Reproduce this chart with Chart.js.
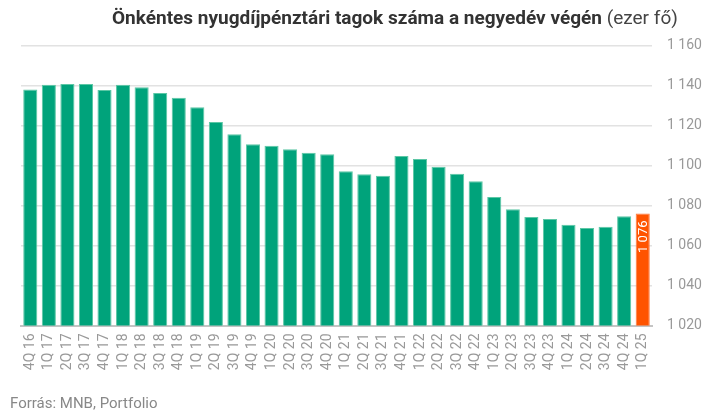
<!DOCTYPE html>
<html>
<head>
<meta charset="utf-8">
<script src="https://cdn.jsdelivr.net/npm/chart.js@4.4.1/dist/chart.umd.min.js"></script>
<style>
  html, body { margin: 0; padding: 0; background: #fff; }
  #wrap { position: relative; width: 718px; height: 415px; font-family: Roboto, sans-serif; }
  #title { position: absolute; left: 112px; top: 6px; font-size: 19px; line-height: 24px; color: #333; white-space: nowrap; }
  #title b { font-weight: 700; }
  #title span { font-weight: 400; color: #444; }
  #source { position: absolute; left: 10px; top: 394px; font-size: 15px; color: #888; }
  canvas { position: absolute; left: 0; top: 0; }
</style>
</head>
<body>
<div id="wrap">
  <canvas id="myChart" width="718" height="415"></canvas>
  <div id="title"><b>Önkéntes nyugdíjpénztári tagok száma a negyedév végén</b> <span>(ezer fő)</span></div>
  <div id="source">Forrás: MNB, Portfolio</div>
</div>
<script>
"use strict";

var labels = ['4Q 16',
    '1Q 17', '2Q 17', '3Q 17', '4Q 17',
    '1Q 18', '2Q 18', '3Q 18', '4Q 18',
    '1Q 19', '2Q 19', '3Q 19', '4Q 19',
    '1Q 20', '2Q 20', '3Q 20', '4Q 20',
    '1Q 21', '2Q 21', '3Q 21', '4Q 21',
    '1Q 22', '2Q 22', '3Q 22', '4Q 22',
    '1Q 23', '2Q 23', '3Q 23', '4Q 23',
    '1Q 24', '2Q 24', '3Q 24', '4Q 24',
    '1Q 25'];

// ezer fő
var members = [1138,
    1140.4, 1140.8, 1140.8, 1137.8,
    1140.4, 1139.1, 1136.3, 1133.9,
    1129.1, 1121.8, 1115.6, 1110.6,
    1109.9, 1108.1, 1106.4, 1105.6,
    1097.1, 1095.6, 1094.9, 1104.8,
    1103.3, 1099.4, 1095.9, 1092.1,
    1084.3, 1078.1, 1074.3, 1073.3,
    1070.4, 1068.8, 1069.4, 1074.6,
    1076];

var yTicks = [1020, 1040, 1060, 1080, 1100, 1120, 1140, 1160];

function fmt(v) {
    return String(Math.round(v)).replace(/\B(?=(\d{3})+(?!\d))/g, ' ');
}

var lastIdx = members.length - 1;
var barColors = members.map((v, i) => i === lastIdx ? '#ff5400' : '#00a37b');
var borderColors = members.map((v, i) => i === lastIdx ? '#ff7a3d' : '#5cc7a5');

var lastLabel = {
    id: 'lastLabel',
    afterDatasetsDraw(chart) {
        var bar = chart.getDatasetMeta(0).data[lastIdx];
        var ctx = chart.ctx;
        ctx.save();
        ctx.translate(bar.x, bar.y + 7);
        ctx.rotate(-Math.PI / 2);
        ctx.font = '13px Roboto';
        ctx.fillStyle = '#fff';
        ctx.textAlign = 'right';
        ctx.textBaseline = 'middle';
        ctx.fillText(fmt(members[lastIdx]), 0, 1);
        ctx.restore();
    }
};

var salesChart = new Chart(document.getElementById('myChart'), {
    type: 'bar',
    data: {
        labels: labels,
        datasets: [{
            data: members,
            backgroundColor: barColors,
            borderColor: borderColors,
            borderWidth: 1,
            categoryPercentage: 1,
            barPercentage: 0.76
        }]
    },
    options: {
        responsive: false,
        animation: false,
        layout: { padding: { left: 21, top: 45.5, right: 0, bottom: 39.5 } },
        plugins: { legend: { display: false }, tooltip: { enabled: false } },
        scales: {
            x: {
                afterFit: (s) => { s.height = 50; },
                grid: { display: false, drawTicks: false },
                border: { color: '#c4c4c4', width: 2 },
                ticks: {
                    autoSkip: false, maxRotation: 90, minRotation: 90, padding: 8,
                    color: '#999', font: { family: 'Roboto', size: 14 }
                }
            },
            y: {
                position: 'right',
                min: 1020,
                max: 1160,
                afterFit: (s) => { s.width = 66; },
                afterBuildTicks: (s) => { s.ticks = yTicks.map(v => ({ value: v })); },
                grid: { color: '#e2e2e2', lineWidth: 1.5, drawTicks: false },
                border: { display: false },
                ticks: {
                    padding: 15,
                    color: '#999', font: { family: 'Roboto', size: 14 },
                    callback: (v) => fmt(v)
                }
            }
        }
    },
    plugins: [lastLabel]
});
</script>
</body>
</html>
